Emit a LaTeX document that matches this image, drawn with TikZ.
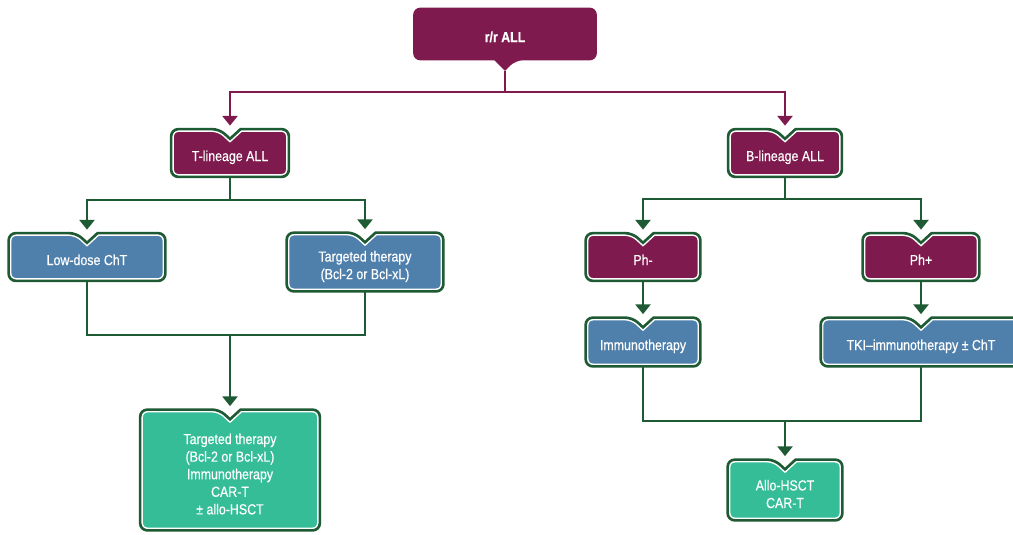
\documentclass[tikz,border=0pt]{standalone}
\usepackage{fontspec}
\setmainfont{Liberation Sans}[FakeStretch=0.85, FakeBold=0.5]
\usepackage{tikz}
\usetikzlibrary{arrows.meta,backgrounds}
\tikzset{>={Triangle[width=8.5pt,length=5.5pt]}}

\definecolor{rrplum}{HTML}{7F1A4E}
\definecolor{rrblue}{HTML}{4F80AC}
\definecolor{rrmint}{HTML}{34BD97}
\definecolor{rrgreen}{HTML}{1E5A33}

\tikzset{
  txt/.style={text=white, align=center, inner sep=0pt, text depth=0pt,
              execute at begin node={\rule{0pt}{9.2pt}},
              font=\fontsize{8.3}{10}\selectfont},
  glink/.style={draw=rrgreen, line width=1.2pt},
  plink/.style={draw=rrplum, line width=1.2pt}
}

% box with a notch on top, for node #1, filled with #2
\newcommand{\notchbox}[2]{%
  \path[fill=#2, postaction={draw=white, line width=3.2pt},
        postaction={draw=rrgreen, line width=1.5pt}]
    ([xshift=6pt]#1.north) [rounded corners=4pt] -- (#1.north east)
    -- (#1.south east) -- (#1.south west) -- (#1.north west)
    -- ([xshift=-6pt]#1.north) [sharp corners] -- ([yshift=-5.5pt]#1.north)
    -- cycle;}

\begin{document}
\begin{tikzpicture}[x=0.02cm, y=-0.02cm]
\useasboundingbox (0,0) rectangle (1013,534);
% top
\node[txt, font=\fontsize{8.3}{10}\selectfont\bfseries,
      minimum width=3.66cm, minimum height=1.04cm] (rr) at (505,34) {r/r ALL};
\coordinate (rrtip) at ([yshift=-6pt]rr.south);
\coordinate (rsplit) at (505,92);
% lineages
\node[txt, minimum width=2.34cm, minimum height=0.94cm] (tlin) at (230,153) {T-lineage ALL};
\node[txt, minimum width=2.26cm, minimum height=0.94cm] (blin) at (785,153) {B-lineage ALL};
% T side
\node[txt, minimum width=3.12cm, minimum height=0.94cm] (lowdose) at (87,257) {Low-dose ChT};
\node[txt, text height=19.5pt, minimum width=3.12cm, minimum height=1.16cm] (tther)
  at (365,262) {Targeted therapy\\(Bcl-2 or Bcl-xL)};
\node[txt, text height=50.5pt, minimum width=3.58cm, minimum height=2.4cm] (tfinal)
  at (230,470) {Targeted therapy\\(Bcl-2 or Bcl-xL)\\Immunotherapy\\CAR-T\\± allo-HSCT};
\coordinate (tsplit) at (230,200);
\coordinate (tmerge) at (230,335);
% B side
\node[txt, minimum width=2.28cm, minimum height=0.94cm] (phneg) at (643,257) {Ph-};
\node[txt, minimum width=2.32cm, minimum height=0.94cm] (phpos) at (921,257) {Ph+};
\node[txt, minimum width=2.28cm, minimum height=0.96cm] (immuno) at (643,342) {Immunotherapy};
\node[txt, minimum width=4.0cm, minimum height=0.96cm] (tki) at (921,342)
  {TKI--immunotherapy ± ChT};
\node[txt, text height=20.5pt, minimum width=2.28cm, minimum height=1.2cm] (allo)
  at (785,490) {Allo-HSCT\\CAR-T};
\coordinate (bsplit) at (785,199);
\coordinate (bmerge) at (785,421);

% boxes
\begin{scope}[on background layer]
\fill[rrplum, rounded corners=4pt] ([xshift=-6pt]rr.south) -- (rr.south west)
  -- (rr.north west) -- (rr.north east) -- (rr.south east)
  -- ([xshift=6pt]rr.south) [sharp corners] -- (rrtip) -- cycle;
\notchbox{tlin}{rrplum}
\notchbox{blin}{rrplum}
\notchbox{lowdose}{rrblue}
\notchbox{tther}{rrblue}
\notchbox{tfinal}{rrmint}
\notchbox{phneg}{rrplum}
\notchbox{phpos}{rrplum}
\notchbox{immuno}{rrblue}
\notchbox{tki}{rrblue}
\notchbox{allo}{rrmint}
\end{scope}

% top links
\draw[plink] (rrtip) -- (rsplit);
\draw[plink,->] (rsplit) -| ([yshift=2pt]tlin.north);
\draw[plink,->] (rsplit) -| ([yshift=2pt]blin.north);
% T links
\draw[glink] (tlin.south) -- (tsplit);
\draw[glink,->] (tsplit) -| ([yshift=2pt]lowdose.north);
\draw[glink,->] (tsplit) -| ([yshift=2pt]tther.north);
\draw[glink] (lowdose.south) |- (tmerge);
\draw[glink] (tther.south) |- (tmerge);
\draw[glink,->] (tmerge) -- ([yshift=2pt]tfinal.north);
% B links
\draw[glink] (blin.south) -- (bsplit);
\draw[glink,->] (bsplit) -| ([yshift=2pt]phneg.north);
\draw[glink,->] (bsplit) -| ([yshift=2pt]phpos.north);
\draw[glink,->] (phneg.south) -- ([yshift=2pt]immuno.north);
\draw[glink,->] (phpos.south) -- ([yshift=2pt]tki.north);
\draw[glink] (immuno.south) |- (bmerge);
\draw[glink] (tki.south) |- (bmerge);
\draw[glink,->] (bmerge) -- ([yshift=2pt]allo.north);
\end{tikzpicture}
\end{document}
